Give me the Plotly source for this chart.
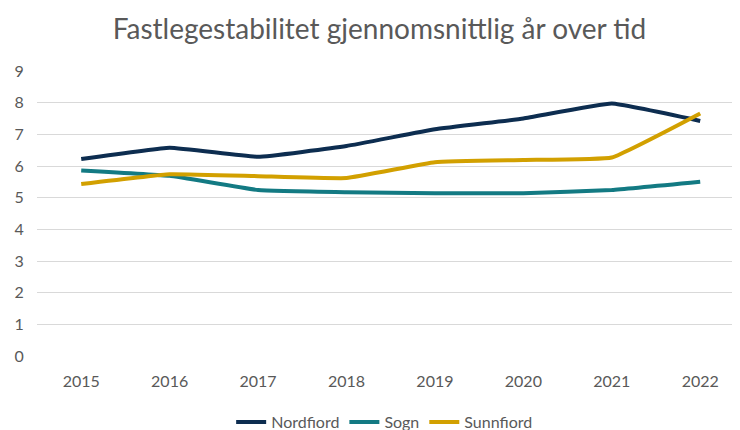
import plotly.graph_objects as go

years = ["2015", "2016", "2017", "2018", "2019", "2020", "2021", "2022"]
nordfiord = [6.22, 6.58, 6.29, 6.63, 7.16, 7.50, 7.97, 7.42]
sogn = [5.86, 5.69, 5.24, 5.17, 5.14, 5.14, 5.24, 5.50]
sunnfiord = [5.43, 5.74, 5.68, 5.62, 6.12, 6.19, 6.27, 7.66]

series = [
    ("Nordfiord", nordfiord, "#0d2d50"),
    ("Sogn", sogn, "#137a83"),
    ("Sunnfiord", sunnfiord, "#d2a000"),
]

fig = go.Figure()
for name, vals, color in series:
    fig.add_trace(go.Scatter(
        x=list(range(len(years))), y=vals, name=name, mode="lines",
        line=dict(color=color, width=4, shape="spline", smoothing=0.3),
    ))

font_family = "Lato, 'Open Sans', sans-serif"
fig.update_layout(
    width=740, height=430,
    paper_bgcolor="white", plot_bgcolor="white",
    margin=dict(l=29, r=8, t=63, b=82, autoexpand=False),
    title=dict(text="Fastlegestabilitet gjennomsnittlig år over tid",
               x=0.502, xanchor="center", y=0.951, yanchor="middle",
               font=dict(family=font_family, size=28, color="#595959")),
    font=dict(family=font_family, size=16, color="#595959"),
    xaxis=dict(tickmode="array", tickvals=list(range(len(years))), ticktext=years,
               range=[-0.5, 7.45], showgrid=False, zeroline=False, showline=False,
               ticks="outside", ticklen=11, tickcolor="white",
               tickfont=dict(size=16, color="#595959")),
    yaxis=dict(range=[0, 9], dtick=1, showgrid=True, gridcolor="#d9d9d9", gridwidth=1,
               zeroline=False, showline=False, ticks="outside", ticklen=9,
               tickcolor="white", tickfont=dict(size=16, color="#595959")),
    legend=dict(orientation="h", xref="container", x=0.509, xanchor="center",
                yref="container", y=0.037, yanchor="middle",
                font=dict(size=16, color="#595959"),
                tracegroupgap=0),
    showlegend=True,
)

fig.write_html("out.html")
